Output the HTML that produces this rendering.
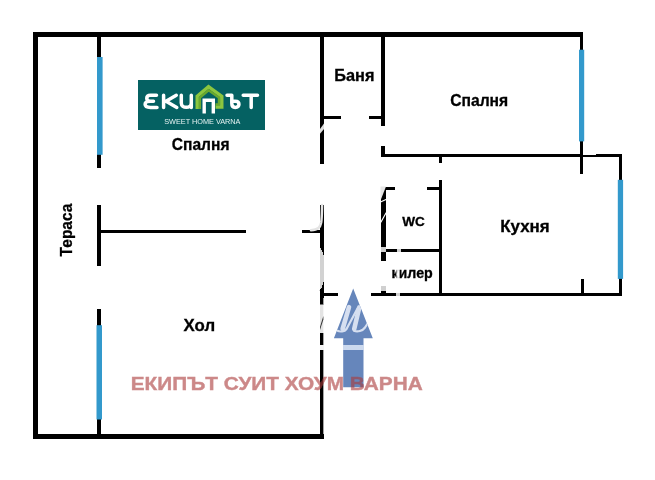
<!DOCTYPE html>
<html>
<head>
<meta charset="utf-8">
<style>
html,body{margin:0;padding:0;background:#fff;}
body{width:655px;height:480px;overflow:hidden;position:relative;font-family:"Liberation Sans",sans-serif;}
svg{position:absolute;left:0;top:0;will-change:transform;}
.k{fill:#000;}
.b{fill:#3399cc;}
text{font-family:"Liberation Sans",sans-serif;font-weight:bold;fill:#000;}
.l{stroke:#000;stroke-width:0.3;}
</style>
</head>
<body>
<svg width="655" height="480" viewBox="0 0 655 480">
<g shape-rendering="crispEdges">
<!-- outer walls -->
<rect class="k" x="33" y="32" width="550" height="5"/>
<rect class="k" x="33" y="32" width="5" height="407"/>
<rect class="k" x="33" y="434" width="290.5" height="5"/>
<!-- terrace wall -->
<rect class="k" x="97" y="32" width="4" height="26"/>
<rect class="k" x="97" y="154" width="4" height="14"/>
<rect class="k" x="97" y="205" width="4" height="60.5"/>
<rect class="k" x="97" y="309" width="4" height="17"/>
<rect class="k" x="97" y="419" width="4" height="18"/>
<!-- horizontal divider -->
<rect class="k" x="99" y="230" width="147" height="3"/>
<rect class="k" x="302" y="230" width="19" height="3"/>
<!-- central vertical wall -->
<rect class="k" x="320" y="32" width="4" height="132"/>
<rect class="k" x="320" y="205" width="4" height="93"/>

<!-- bath -->
<rect class="k" x="381" y="32" width="4" height="94"/>
<rect class="k" x="320" y="116" width="21" height="3"/>
<rect class="k" x="369" y="116" width="14" height="3"/>
<rect class="k" x="381" y="146" width="4" height="11"/>
<!-- bedroom 2 -->
<rect class="k" x="381" y="154" width="202" height="3"/>
<rect class="k" x="583" y="155" width="13" height="1.5"/>
<rect class="k" x="595.5" y="154" width="26.5" height="3"/>
<rect class="k" x="580" y="32" width="3" height="19"/>
<rect class="k" x="580" y="141" width="3.4" height="32.6"/>
<!-- kitchen -->
<rect class="k" x="618.6" y="154" width="3.4" height="142"/>
<rect class="k" x="381" y="293" width="241" height="3"/>
<rect class="k" x="439" y="154" width="3" height="9"/>
<rect class="k" x="439" y="180" width="3" height="115"/>
<rect class="k" x="581" y="279" width="3" height="15"/>
<!-- wc -->
<rect class="k" x="381" y="187" width="4.5" height="74"/>
<rect class="k" x="381" y="286" width="4.5" height="9"/>
<rect class="k" x="381" y="187" width="13.7" height="3"/>
<rect class="k" x="427" y="187" width="15" height="3"/>
<rect class="k" x="381" y="249" width="60" height="3"/>
<!-- entrance -->
<rect class="k" x="320" y="293" width="18" height="3"/>
<rect class="k" x="371.3" y="293" width="12" height="3"/>
<!-- windows -->
</g>
<rect class="b" x="97" y="57" width="5.6" height="97.8"/>
<rect class="b" x="96.5" y="325.2" width="5.5" height="94.3"/>
<rect class="b" x="579" y="49.7" width="5.2" height="91.7"/>
<rect class="b" x="617.8" y="179.8" width="5.3" height="99.1"/>
<rect class="k" x="320" y="298" width="3.35" height="140"/>
<defs><clipPath id="ac"><polygon points="353.2,288.4 333.9,338.3 343.2,338.3 343.2,387.2 363.5,387.2 363.5,338.3 372.8,338.3"/></clipPath></defs>
<!-- arrow -->
<polygon fill="#6686bb" points="353.2,288.4 333.9,338.3 343.2,338.3 343.2,387.2 363.5,387.2 363.5,338.3 372.8,338.3"/>

<!-- logo -->
<rect x="138" y="80" width="127" height="49.5" fill="#056162" shape-rendering="crispEdges"/>
<g fill="none" stroke="#fff" stroke-width="3.5" stroke-linecap="round" stroke-linejoin="round">
<path d="M156.5,95.3 H150.5 C145.5,95.3 145.5,101.2 150.5,101.2 H153.5 M150.5,101.2 C143.3,101.2 143.3,107.4 150.5,107.4 H157"/>
<path d="M163.6,95.3 V107.4 M176.3,95.3 L166,101.3 L176.8,107.4"/>
<path d="M181.3,95.3 V103 C181.3,108.8 191.3,108.8 191.3,103 M191.3,95.3 V107.4"/>
<path d="M227,95.3 H231.8 V103 M231.8,101.3 H235.2 C240.2,101.3 240.2,107.4 235.2,107.4 C233,107.4 231.8,106 231.8,103.5"/>
<path d="M243.2,95.3 H257.5 M251.2,95.3 V107.4"/>
</g>
<!-- house -->
<path d="M197.2,109 V96.3 L208.5,86.6 L221.8,96.3 V107 H215.5" fill="none" stroke="#8cc63f" stroke-width="3.4" stroke-linejoin="miter"/>
<path d="M199.9,109 V97.6 L208.6,90.3 L218.9,97.6 V104.4 H215.5" fill="none" stroke="#6aa82e" stroke-width="2.3"/>
<path d="M204.2,113.6 V100.3 H213.3 V113.6" fill="none" stroke="#fff" stroke-width="3.4" stroke-linejoin="miter" stroke-linecap="butt"/>
<text x="164.2" y="124" font-size="7.3" textLength="76.3" lengthAdjust="spacingAndGlyphs" style="font-weight:normal;fill:#e6f2f2;">SWEET HOME VARNA</text>

<!-- labels -->
<text class="l" x="171.7" y="150.3" font-size="16" textLength="57.8" lengthAdjust="spacingAndGlyphs">Спалня</text>
<text class="l" x="450.2" y="105.5" font-size="16" textLength="58" lengthAdjust="spacingAndGlyphs">Спалня</text>
<text class="l" x="334.3" y="81" font-size="16" textLength="40.2" lengthAdjust="spacingAndGlyphs">Баня</text>
<text class="l" x="183.6" y="330.6" font-size="16" textLength="31.5" lengthAdjust="spacingAndGlyphs">Хол</text>
<text class="l" x="500.2" y="231.7" font-size="16" textLength="49.5" lengthAdjust="spacingAndGlyphs">Кухня</text>
<text class="l" x="402.3" y="225.5" font-size="13" textLength="22.6" lengthAdjust="spacingAndGlyphs">WC</text>
<text class="l" x="391.5" y="277.5" font-size="14" textLength="41.3" lengthAdjust="spacingAndGlyphs">килер</text>
<text class="l" transform="translate(72,256.4) rotate(-90)" x="0" y="0" font-size="16" textLength="52.8" lengthAdjust="spacingAndGlyphs">Тераса</text>
<text x="130.7" y="389.5" font-size="18.6" textLength="292" lengthAdjust="spacingAndGlyphs" style="fill:#ab3a3a;stroke:#ab3a3a;stroke-width:0.4;opacity:0.6;">ЕКИПЪТ СУИТ ХОУМ ВАРНА</text>

<!-- watermark erasures -->
<g fill="none" stroke-linecap="round">
<path d="M320,129 L324,123.4 V129 L320,133.8 Z" fill="#dedede" stroke="none"/>
<path d="M322.1,205 C321.9,212 321.9,218 321.2,222.5 C320.3,227.5 318,229.8 311,230.2" stroke="#e4e4e4" stroke-width="2.5"/>
<path d="M380.5,186.5 H386 L380.5,200.5 Z" fill="#e6e6e6" stroke="none"/>
<path d="M380.5,202 L386,199.5" stroke="#fff" stroke-width="1.2"/>
<path d="M381,222 L386,213" stroke="#fff" stroke-width="1.2"/>
</g>
<g shape-rendering="crispEdges">
<path d="M319.5,246.5 C322.5,249.5 324.3,255 324.3,262 L324.3,275 C324.3,282 322.5,287 319.5,290.5 Z" fill="#d2d2d2"/>
<rect x="320" y="304.5" width="4" height="28.5" fill="#fff"/>
<rect x="319.5" y="345.3" width="4.5" height="4.8" fill="#f4f4f4"/>
<rect x="343.2" y="345.2" width="20.3" height="5" fill="#ccd9ee"/>
<rect x="380.8" y="246.8" width="4.8" height="5.2" fill="#d0d0d0"/>
<rect x="380.8" y="286" width="4.8" height="5" fill="#d0d0d0"/>
<rect x="397" y="248.8" width="4" height="3.4" fill="#d0d0d0"/>
<rect x="396.2" y="292.8" width="3.4" height="3.4" fill="#d0d0d0"/>
</g>
<rect x="320" y="304.5" width="3.35" height="28.5" fill="#e4e4e4"/>
<path d="M320,327 L323.35,316 L323.35,319.5 L320,330 Z" fill="#333"/>
<rect x="396.4" y="262" width="3.1" height="20" fill="#fff" fill-opacity="0.85"/>
<!-- script m in arrow head -->
<g clip-path="url(#ac)" fill="none" stroke="#d6dff0" stroke-linecap="round" stroke-linejoin="round">
<path d="M349,307.2 L342.6,329" stroke-width="4.6"/>
<path d="M359.3,307.4 L354.2,329" stroke-width="4.6"/>
<path d="M337.5,330.8 C340,332 344.5,331.8 346.5,329 L357.5,308.5" stroke-width="2.2"/>
<path d="M354,330.8 C357.5,332.2 362.5,331 365,327.5 L368.3,322.5" stroke-width="2.2"/>
</g>
</svg>
</body>
</html>
